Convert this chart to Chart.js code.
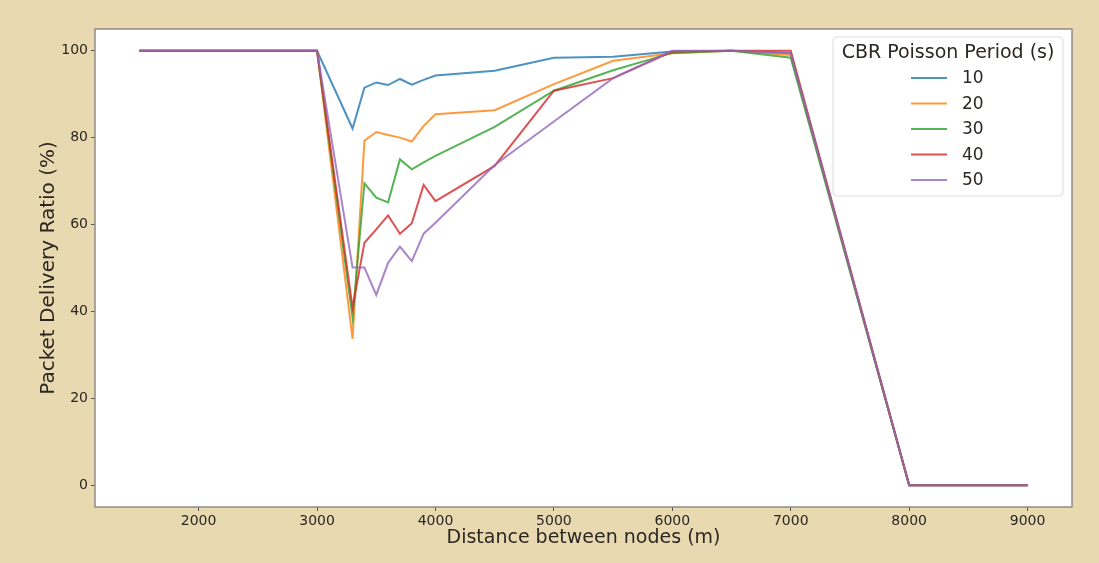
<!DOCTYPE html>
<html>
<head>
<meta charset="utf-8">
<title>Packet Delivery Ratio vs Distance</title>
<script src="https://cdn.jsdelivr.net/npm/chart.js@4.4.1/dist/chart.umd.min.js"></script>
<style>
    html, body { margin: 0; padding: 0; background: #e9d9b1; }
    #chart { display: block; }
</style>
</head>
<body>
<canvas id="chart" width="1099" height="563"></canvas>
<script>
// Distance between nodes (m)
const distances = [1500, 3000, 3300, 3400, 3500, 3600, 3700, 3800, 3900, 4000, 4500, 5000, 5500, 6000, 6500, 7000, 8000, 9000];

// Packet delivery ratio (%) per CBR Poisson period
const pdr10 = [100, 100, 82.1, 91.5, 92.7, 92.1, 93.5, 92.2, 93.3, 94.3, 95.4, 98.4, 98.6, 99.8, 100, 99.5, 0, 0];
const pdr20 = [100, 100, 33.7, 79.3, 81.3, 80.6, 80.0, 79.1, 82.7, 85.4, 86.3, 92.3, 97.7, 99.4, 100, 99.0, 0, 0];
const pdr30 = [100, 100, 38.6, 69.5, 66.2, 65.1, 75.0, 72.7, 74.3, 75.8, 82.5, 90.8, 95.5, 99.5, 100, 98.4, 0, 0];
const pdr40 = [100, 100, 40.9, 55.8, 58.9, 62.1, 57.9, 60.3, 69.1, 65.4, 73.5, 90.8, 93.7, 99.8, 100, 100, 0, 0];
const pdr50 = [100, 100, 50.1, 50.1, 43.8, 51.2, 54.9, 51.6, 57.9, 60.4, 73.7, 83.7, 93.7, 100, 100, 99.4, 0, 0];

const seriesLabels = ['10', '20', '30', '40', '50'];
const seriesValues = [pdr10, pdr20, pdr30, pdr40, pdr50];
const seriesColors = ['#1f77b4', '#ff7f0e', '#2ca02c', '#d62728', '#9467bd'];

const xTicks = [2000, 3000, 4000, 5000, 6000, 7000, 8000, 9000];
const yTicks = [0, 20, 40, 60, 80, 100];

const FONT = "'DejaVu Sans', sans-serif";
const TEXT = '#2b2823';

const withAlpha = (hex, a) => {
    const n = parseInt(hex.slice(1), 16);
    return `rgba(${(n >> 16) & 255}, ${(n >> 8) & 255}, ${n & 255}, ${a})`;
};

// later series are drawn on top, like matplotlib does
const datasets = seriesValues.map((values, i) => ({
    label: seriesLabels[i],
    data: values.map((v, j) => ({ x: distances[j], y: v })),
    borderColor: withAlpha(seriesColors[i], 0.8),
    borderWidth: 2,
    pointRadius: 0,
    tension: 0,
    fill: false,
    order: seriesValues.length - i,
}));

// white axes background + grey frame like matplotlib
const framePlugin = {
    id: 'frame',
    beforeDraw(chart) {
        const { ctx, chartArea: a } = chart;
        ctx.save();
        ctx.fillStyle = '#ffffff';
        ctx.fillRect(a.left, a.top, a.right - a.left, a.bottom - a.top);
        ctx.restore();
    },
    afterDatasetsDraw(chart) {
        const { ctx, chartArea: a } = chart;
        ctx.save();
        ctx.strokeStyle = '#8e8c84';
        ctx.lineWidth = 1.5;
        ctx.strokeRect(a.left, a.top, a.right - a.left, a.bottom - a.top);
        ctx.restore();
    }
};

// legend box in the upper right, titled, as in the original figure
const legendPlugin = {
    id: 'boxLegend',
    afterDraw(chart) {
        const ctx = chart.ctx;
        const box = { x: 833, y: 37, w: 230, h: 159 };
        ctx.save();
        ctx.fillStyle = 'rgba(255,255,255,0.85)';
        ctx.strokeStyle = '#dcdcdc';
        ctx.lineWidth = 1;
        ctx.beginPath();
        ctx.roundRect(box.x, box.y, box.w, box.h, 4);
        ctx.fill();
        ctx.stroke();

        ctx.fillStyle = TEXT;
        ctx.font = `19px ${FONT}`;
        ctx.textAlign = 'center';
        ctx.textBaseline = 'middle';
        ctx.fillText('CBR Poisson Period (s)', box.x + box.w / 2, 53);

        ctx.font = `17px ${FONT}`;
        ctx.textAlign = 'left';
        seriesLabels.forEach((label, i) => {
            const ds = chart.data.datasets[i];
            const y = 78 + i * 25.5;
            ctx.strokeStyle = ds.borderColor;
            ctx.lineWidth = 2;
            ctx.beginPath();
            ctx.moveTo(911, y);
            ctx.lineTo(947, y);
            ctx.stroke();
            ctx.fillStyle = TEXT;
            ctx.fillText(label, 962, y + 1);
        });
        ctx.restore();
    }
};

new Chart(document.getElementById('chart'), {
    type: 'line',
    data: { datasets },
    options: {
        responsive: false,
        animation: false,
        devicePixelRatio: 1,
        layout: { padding: { left: 0, top: 29, right: 27, bottom: 0 } },
        plugins: {
            legend: { display: false },
            tooltip: { enabled: false },
        },
        scales: {
            x: {
                type: 'linear',
                min: 1125,
                max: 9375,
                afterFit: (scale) => { scale.height = 56; },
                afterBuildTicks: (scale) => { scale.ticks = xTicks.map(v => ({ value: v })); },
                grid: { drawOnChartArea: false, drawTicks: true, tickLength: 4, tickColor: '#555' },
                border: { display: false },
                ticks: {
                    color: TEXT,
                    font: { family: FONT, size: 14 },
                    padding: 2,
                    maxRotation: 0,
                    callback: (v) => String(v),
                },
                title: {
                    display: true,
                    text: 'Distance between nodes (m)',
                    color: TEXT,
                    font: { family: FONT, size: 19 },
                    padding: { top: 0, bottom: 14 },
                },
            },
            y: {
                min: -5,
                max: 105,
                afterFit: (scale) => { scale.width = 95; },
                afterBuildTicks: (scale) => { scale.ticks = yTicks.map(v => ({ value: v })); },
                grid: { drawOnChartArea: false, drawTicks: true, tickLength: 4, tickColor: '#555' },
                border: { display: false },
                ticks: {
                    color: TEXT,
                    font: { family: FONT, size: 14 },
                    padding: 3,
                },
                title: {
                    display: true,
                    text: 'Packet Delivery Ratio (%)',
                    color: TEXT,
                    font: { family: FONT, size: 20 },
                    padding: { top: 37, bottom: 0 },
                },
            },
        },
    },
    plugins: [framePlugin, legendPlugin],
});
</script>
</body>
</html>
